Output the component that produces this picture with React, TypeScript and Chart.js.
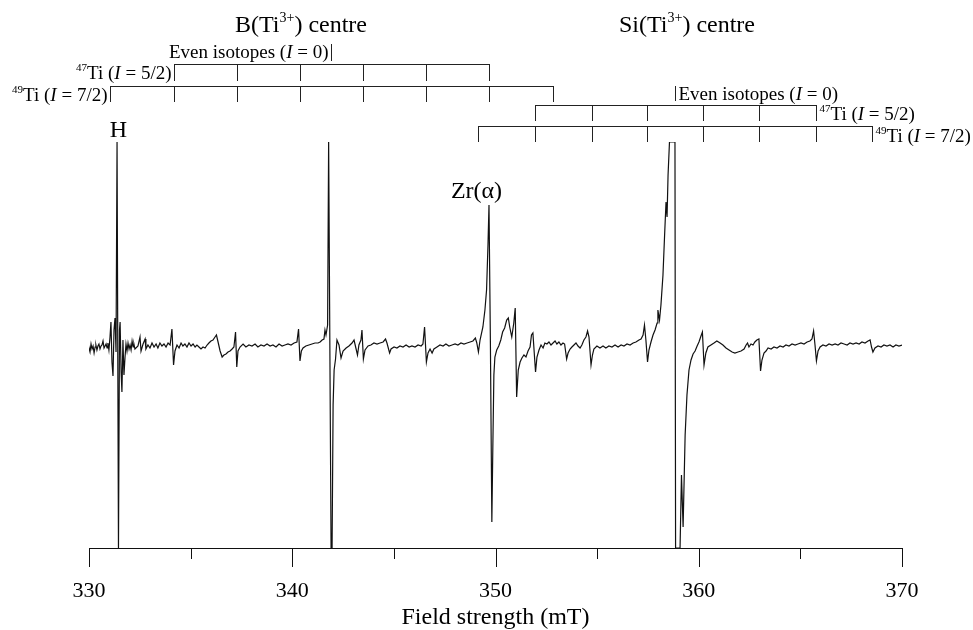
import React, { useEffect, useRef } from 'react';
import { Chart, registerables } from 'chart.js';

Chart.register(...registerables);

const FONT = '"Liberation Serif", "Times New Roman", serif';

// Axis
const fieldMin = 330;
const fieldMax = 370;
const majorTicks = [330, 340, 350, 360, 370];
const minorTicks = [335, 345, 355, 365];
const axisTitle = 'Field strength (mT)';

// EPR first-derivative spectrum: [field (mT), intensity (arb. units, clipped at ±203)]
const spectrum: [number, number][] = [
  [329.85, 0], [329.90, -5], [329.95, 2], [330.00, -3], [330.05, -7], [330.10, 1], [330.15, -4], [330.20, -1],
  [330.25, -8], [330.30, -2], [330.34, 0], [330.39, -5], [330.44, -1], [330.49, 1], [330.54, -4], [330.59, -1],
  [330.64, 0], [330.69, 4], [330.74, -3], [330.79, -1], [330.84, 1], [330.89, -3], [330.93, 2], [330.98, -5],
  [331.03, 7], [331.08, 23], [331.13, -17], [331.18, -31], [331.23, 15], [331.28, 27], [331.33, -7], [331.38, 203],
  [331.45, -203], [331.50, 15], [331.53, 23], [331.58, -27], [331.62, -47], [331.67, 5], [331.72, -30], [331.77, -13],
  [331.82, 1], [331.87, -6], [331.92, 2], [331.97, -4], [332.02, 0], [332.07, -5], [332.12, 4], [332.17, -2],
  [332.21, 1], [332.26, -4], [332.41, -1], [332.51, 8], [332.56, -6], [332.66, 1], [332.76, 6], [332.80, -4],
  [332.90, 0], [333.00, -3], [333.10, 2], [333.20, -2], [333.30, 1], [333.39, -3], [333.49, 2], [333.59, -1],
  [333.69, 1], [333.79, -2], [333.89, 2], [333.99, 0], [334.08, 16], [334.16, -20], [334.23, -6], [334.33, 0],
  [334.43, -3], [334.53, 2], [334.62, -1], [334.72, 1], [334.82, -2], [334.92, 2], [335.02, -1], [335.12, 1],
  [335.22, -2], [335.31, 0], [335.41, -2], [335.51, -4], [335.61, -2], [335.71, -3], [335.81, 0], [335.90, 2],
  [336.00, 4], [336.10, 5], [336.20, 8], [336.27, 10], [336.35, 3], [336.45, -6], [336.55, -12], [336.64, -10],
  [336.74, -9], [336.84, -7], [336.94, -6], [337.04, -4], [337.13, -2], [337.21, 13], [337.27, -22], [337.33, -6],
  [337.43, -2], [337.58, 1], [337.72, -2], [337.87, 0], [338.02, -1], [338.17, 1], [338.31, -2], [338.46, 0],
  [338.61, -1], [338.76, 1], [338.91, -1], [339.05, 0], [339.20, -2], [339.35, 1], [339.50, -1], [339.64, 0],
  [339.79, 1], [339.94, 0], [340.09, 2], [340.23, 3], [340.31, 16], [340.38, -16], [340.45, -6], [340.53, -3],
  [340.67, -1], [340.82, 0], [340.97, 1], [341.12, 2], [341.27, 2], [341.37, 3], [341.47, 5], [341.56, 6],
  [341.61, 15], [341.66, 10], [341.74, 20], [341.79, 203], [341.91, -203], [341.96, -203], [342.01, -60], [342.06, -25],
  [342.13, -14], [342.20, 5], [342.30, 0], [342.40, -13], [342.50, -6], [342.65, -3], [342.79, -1], [342.94, 2],
  [343.04, 5], [343.13, -3], [343.21, -10], [343.28, 0], [343.38, 5], [343.43, 15], [343.50, -14], [343.58, -5],
  [343.73, -1], [343.87, 0], [344.02, 2], [344.17, 1], [344.32, 2], [344.47, 3], [344.59, 6], [344.66, 2],
  [344.79, -8], [344.86, -4], [345.01, -2], [345.15, -3], [345.30, -1], [345.45, -2], [345.60, 0], [345.75, -2],
  [345.89, -1], [346.04, -2], [346.19, 0], [346.34, -1], [346.43, 1], [346.51, 18], [346.60, -17], [346.68, -8],
  [346.78, -4], [346.88, -8], [346.97, -4], [347.12, -2], [347.27, 0], [347.42, -1], [347.56, 1], [347.71, -1],
  [347.86, 0], [348.01, 1], [348.15, 0], [348.30, 2], [348.45, 1], [348.60, 2], [348.75, 3], [348.89, 4],
  [349.01, 7], [349.08, 2], [349.16, -7], [349.24, 5], [349.38, 18], [349.48, 35], [349.56, 55], [349.63, 100],
  [349.68, 140], [349.75, 0], [349.82, -177], [349.87, -100], [349.92, -30], [349.97, -12], [350.06, -5], [350.16, -1],
  [350.26, 5], [350.35, 13], [350.45, 17], [350.55, 25], [350.63, 27], [350.70, 18], [350.80, 8], [350.90, 22],
  [350.97, 37], [351.04, -52], [351.12, -25], [351.21, -17], [351.30, -13], [351.40, -10], [351.50, -12], [351.60, -6],
  [351.70, -2], [351.77, 10], [351.84, 12], [351.97, -27], [352.04, -12], [352.14, -5], [352.24, 0], [352.34, -3],
  [352.43, 2], [352.53, 1], [352.63, 3], [352.73, 0], [352.83, 2], [352.93, 4], [353.02, 1], [353.12, 3],
  [353.22, 0], [353.32, 2], [353.40, 1], [353.50, -14], [353.57, -8], [353.67, -4], [353.76, -2], [353.86, 0],
  [353.96, 2], [354.06, -1], [354.16, -3], [354.25, 0], [354.35, 5], [354.45, 8], [354.53, 14], [354.60, 8],
  [354.70, -20], [354.77, -10], [354.84, -4], [354.99, -1], [355.14, -3], [355.29, -1], [355.43, -3], [355.58, -1],
  [355.73, -2], [355.88, 0], [356.03, -2], [356.18, 0], [356.32, -1], [356.47, 1], [356.62, 0], [356.77, 2],
  [356.91, 3], [357.06, 5], [357.16, 6], [357.26, 10], [357.33, 20], [357.40, 5], [357.48, -17], [357.55, -5],
  [357.65, 3], [357.75, 10], [357.85, 15], [357.95, 22], [357.99, 35], [358.07, 25], [358.14, 40], [358.24, 70],
  [358.32, 110], [358.39, 143], [358.44, 128], [358.49, 170], [358.56, 203], [358.83, 203], [358.86, -203], [359.08, -203],
  [359.15, -130], [359.23, -182], [359.33, -90], [359.42, -50], [359.52, -25], [359.62, -15], [359.72, -9], [359.82, -6],
  [359.92, -1], [360.01, 3], [360.11, 9], [360.18, 13], [360.26, -20], [360.35, -8], [360.45, -2], [360.60, 0],
  [360.75, 2], [360.89, 4], [361.05, 2], [361.19, 0], [361.34, -3], [361.49, -5], [361.64, -7], [361.78, -8],
  [361.93, -7], [362.08, -6], [362.23, -4], [362.33, 0], [362.40, 2], [362.47, -2], [362.57, 1], [362.67, 0],
  [362.76, 3], [362.86, 5], [362.96, 6], [363.04, -26], [363.11, -15], [363.21, -8], [363.31, -6], [363.41, -3],
  [363.56, -4], [363.70, -2], [363.85, -3], [364.00, -1], [364.15, -2], [364.29, 0], [364.44, -1], [364.59, 1],
  [364.74, 0], [364.88, 1], [365.03, 2], [365.18, 1], [365.33, 3], [365.47, 4], [365.57, 6], [365.65, 14],
  [365.72, 0], [365.79, -16], [365.87, -6], [365.97, -2], [366.11, 0], [366.26, -1], [366.41, 1], [366.56, 0],
  [366.71, 1], [366.85, 0], [367.00, 2], [367.15, 1], [367.30, 0], [367.44, 2], [367.59, 1], [367.74, 2],
  [367.89, 1], [368.03, 3], [368.18, 2], [368.33, 4], [368.43, 5], [368.50, -2], [368.57, -7], [368.67, -3],
  [368.82, -1], [368.97, -2], [369.11, 0], [369.26, -1], [369.41, 0], [369.56, -2], [369.70, 0], [369.85, -1],
  [370.00, 0],
];

// Stick diagrams (line positions in mT)
const bEven = [341.93];
const b47Ti = [334.18, 337.28, 340.38, 343.48, 346.58, 349.68];
const b49Ti = [331.03, 334.18, 337.28, 340.38, 343.48, 346.58, 349.68, 352.83];
const siEven = [358.83];
const si47Ti = [351.94, 354.75, 357.45, 360.21, 362.96, 365.77];
const si49Ti = [349.14, 351.94, 354.75, 357.45, 360.21, 362.96, 365.77, 368.52];

// Peak labels (field positions in mT)
const hLabelField = 331.43;
const zrLabelField = 349.75;

type Part = { t: string; sup?: boolean; it?: boolean };

function drawRich(ctx: CanvasRenderingContext2D, parts: Part[], x: number, y: number, align: 'left' | 'right' | 'center', size: number) {
  const fontFor = (p: Part) => `${p.it ? 'italic ' : ''}${p.sup ? Math.round(size * 0.6) : size}px ${FONT}`;
  let total = 0;
  const widths = parts.map((p) => {
    ctx.font = fontFor(p);
    const w = ctx.measureText(p.t).width;
    total += w;
    return w;
  });
  let cx = align === 'left' ? x : align === 'right' ? x - total : x - total / 2;
  ctx.textAlign = 'left';
  ctx.textBaseline = 'alphabetic';
  parts.forEach((p, i) => {
    ctx.font = fontFor(p);
    ctx.fillText(p.t, cx, p.sup ? y - size * 0.4 : y);
    cx += widths[i];
  });
}

const annotationPlugin = {
  id: 'eprAnnotations',
  afterDatasetsDraw(chart: any) {
    const ctx: CanvasRenderingContext2D = chart.ctx;
    const xs = chart.scales.x;
    const area = chart.chartArea;
    const px = (v: number) => Math.round(xs.getPixelForValue(v)) + 0.5;
    ctx.save();
    ctx.fillStyle = '#000';
    ctx.lineWidth = 1;

    // x-axis tick marks
    ctx.strokeStyle = '#111';
    ctx.beginPath();
    majorTicks.forEach((t) => { ctx.moveTo(px(t), area.bottom); ctx.lineTo(px(t), area.bottom + 19); });
    minorTicks.forEach((t) => { ctx.moveTo(px(t), area.bottom); ctx.lineTo(px(t), area.bottom + 11); });
    ctx.stroke();

    const stick = (vals: number[], lineY: number, len: number) => {
      const p = vals.map(px);
      ctx.beginPath();
      if (p.length > 1) { ctx.moveTo(p[0] - 0.5, lineY + 0.5); ctx.lineTo(p[p.length - 1] + 0.5, lineY + 0.5); }
      p.forEach((x) => { ctx.moveTo(x, lineY); ctx.lineTo(x, lineY + len); });
      ctx.stroke();
    };
    ctx.strokeStyle = '#222';
    // B(Ti3+) centre
    stick(bEven, 44, 17);
    stick(b47Ti, 64, 17);
    stick(b49Ti, 86, 16);
    // Si(Ti3+) centre
    stick(siEven, 86, 15);
    stick(si47Ti, 105, 16);
    stick(si49Ti, 126, 16);

    const S = 19;
    drawRich(ctx, [{ t: 'Even isotopes (' }, { t: 'I', it: true }, { t: ' = 0)' }], px(bEven[0]) - 3, 58, 'right', S);
    drawRich(ctx, [{ t: '47', sup: true }, { t: 'Ti (' }, { t: 'I', it: true }, { t: ' = 5/2)' }], px(b47Ti[0]) - 3, 79, 'right', S);
    drawRich(ctx, [{ t: '49', sup: true }, { t: 'Ti (' }, { t: 'I', it: true }, { t: ' = 7/2)' }], px(b49Ti[0]) - 3, 101, 'right', S);
    drawRich(ctx, [{ t: 'Even isotopes (' }, { t: 'I', it: true }, { t: ' = 0)' }], px(siEven[0]) + 3, 100, 'left', S);
    drawRich(ctx, [{ t: '47', sup: true }, { t: 'Ti (' }, { t: 'I', it: true }, { t: ' = 5/2)' }], px(si47Ti[si47Ti.length - 1]) + 3, 120, 'left', S);
    drawRich(ctx, [{ t: '49', sup: true }, { t: 'Ti (' }, { t: 'I', it: true }, { t: ' = 7/2)' }], px(si49Ti[si49Ti.length - 1]) + 3, 142, 'left', S);

    const T = 24;
    drawRich(ctx, [{ t: 'B(Ti' }, { t: '3+', sup: true }, { t: ') centre' }], 301, 32, 'center', T);
    drawRich(ctx, [{ t: 'Si(Ti' }, { t: '3+', sup: true }, { t: ') centre' }], 687, 32, 'center', T);
    drawRich(ctx, [{ t: 'H' }], px(hLabelField), 137, 'center', T);
    drawRich(ctx, [{ t: 'Zr(α)' }], px(zrLabelField) - 14, 198, 'center', T);
    ctx.restore();
  },
};

export default function App() {
  const canvasRef = useRef<HTMLCanvasElement | null>(null);

  useEffect(() => {
    if (!canvasRef.current) return;
    const chart = new Chart(canvasRef.current, {
      type: 'scatter',
      data: {
        datasets: [
          {
            data: spectrum.map(([x, y]) => ({ x, y })),
            showLine: true,
            borderColor: '#111',
            borderWidth: 1.2,
            pointRadius: 0,
            tension: 0,
            fill: false,
          },
        ],
      },
      options: {
        animation: false,
        responsive: false,
        devicePixelRatio: 1,
        layout: { padding: { left: 89, right: 71, top: 142, bottom: 0 } },
        plugins: { legend: { display: false }, tooltip: { enabled: false } },
        scales: {
          x: {
            type: 'linear',
            position: 'bottom',
            min: fieldMin,
            max: fieldMax,
            afterFit: (scale: any) => { scale.height = 82; },
            grid: { display: true, drawOnChartArea: false, drawTicks: false },
            border: { display: true, color: '#111', width: 1 },
            ticks: {
              stepSize: 5,
              autoSkip: false,
              maxRotation: 0,
              padding: 30,
              color: '#000',
              font: { family: FONT, size: 22, lineHeight: 1.2 },
              callback: (v: any) => (majorTicks.includes(Number(v)) ? String(v) : ''),
            },
            title: {
              display: true,
              text: axisTitle,
              color: '#000',
              font: { family: FONT, size: 24, lineHeight: 1.0 },
              padding: { top: 4, bottom: 0 },
            },
          },
          y: { display: false, min: -203, max: 203 },
        },
      },
      plugins: [annotationPlugin],
    });
    return () => chart.destroy();
  }, []);

  return (
    <div style={{ position: 'fixed', left: 0, top: 0, width: 973, height: 630, background: '#fff' }}>
      <canvas ref={canvasRef} width={973} height={630} style={{ width: 973, height: 630, display: 'block' }} />
    </div>
  );
}
